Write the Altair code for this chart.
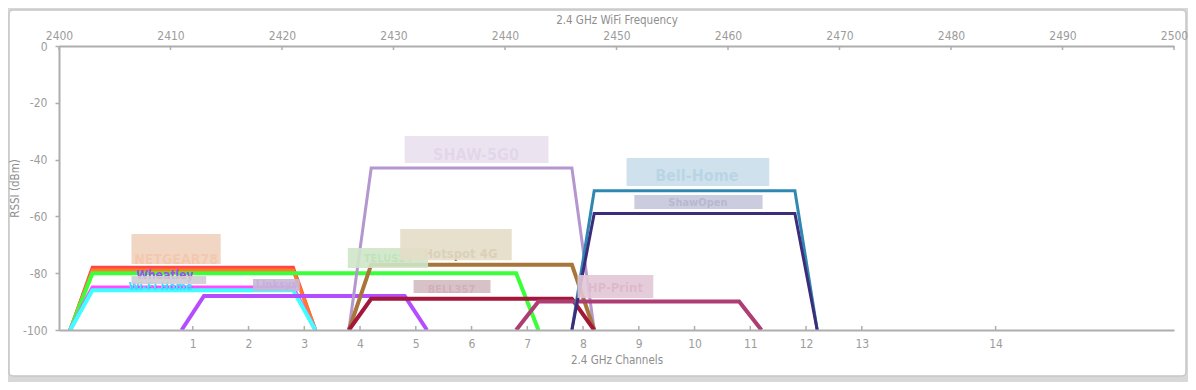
import altair as alt
import pandas as pd

FONT = "'Liberation Sans Narrow', 'DejaVu Sans Condensed', 'Roboto Condensed', sans-serif"

# ---- networks (one trapezoid per access point) ----
net_names = ["NETGEAR78", "NETGEAR78-EXT", "TELUS24", "Wheatley", "Wi-Fi Home",
             "Linksys", "SHAW-5G0", "Hotspot 4G", "BELL357", "HP-Print",
             "Bell-Home", "ShawOpen"]
net_channel = [1, 1, 3, 1, 1, 3, 6, 6, 6, 9, 10, 10]
net_width_mhz = [20, 20, 40, 20, 20, 20, 20, 20, 20, 20, 20, 20]
net_rssi = [-78, -79, -80, -85, -86, -88, -43, -77, -89, -90, -51, -59]

# style lists (kept apart from the data)
net_colors = ["#FF4545", "#FF7A22", "#3BFF3B", "#FF4DFF", "#3DFFFF", "#B44DFF",
              "#B497CF", "#A8763A", "#A3173A", "#AD3D72", "#2F88B2", "#3D2C7A"]
net_strokes = [3.5, 3.5, 4, 4, 4, 4, 3, 4, 4, 4, 3, 3]

# ---- labels (SSIDs are blurred in the source) ----
label_text = ["NETGEAR78", "Wheatley", "Wi-Fi Home", "Linksys", "TELUS24",
              "Hotspot 4G", "BELL357", "SHAW-5G0", "HP-Print", "Bell-Home", "ShawOpen"]
label_mhz = [2410.5, 2409.5, 2409.1, 2419.5, 2429.5, 2436.0, 2435.2, 2437.4, 2449.9, 2457.2, 2457.3]
label_dbm = [-75.5, -80.6, -84.9, -84.0, -75.0, -73.2, -85.9, -38.4, -85.2, -45.8, -55.3]
label_colors = ["#FF7A22", "#A24CF0", "#3DD8FF", "#B44DFF", "#2ECC2E", "#8A5E2A",
                "#D0206A", "#9C7BBE", "#AD3D72", "#2F88B2", "#3D2C7A"]
label_sizes = [14, 12, 11, 11, 11, 13, 11, 16, 13, 16, 11]

# blur boxes over the labels
box_mhz1 = [2406.5, 2406.5, 2417.4, 2425.9, 2430.6, 2431.8, 2431.0, 2446.5, 2450.9, 2451.6]
box_mhz2 = [2414.5, 2413.2, 2421.6, 2433.1, 2440.6, 2438.7, 2443.9, 2453.3, 2463.7, 2463.1]
box_top = [-66.2, -81.0, -82.0, -71.1, -64.4, -82.4, -31.7, -80.6, -39.4, -52.5]
box_bottom = [-76.8, -83.8, -86.3, -78.2, -75.4, -87.0, -41.2, -88.7, -49.3, -57.4]
box_fills = ["#F1D2BE", "#CFCCD3", "#C8B8D8", "#CFE6C9", "#E3DDC8", "#D3BDC1",
             "#EAE0EE", "#E2C7D6", "#C9DEEA", "#C5C6D9"]

# ---- axes values ----
freq_ticks = list(range(2400, 2501, 10))
rssi_ticks = [0, -20, -40, -60, -80, -100]
channel_numbers = list(range(1, 15))
channel_freqs = [2407 + 5 * c if c < 14 else 2484 for c in channel_numbers]

# ---- build tables ----
rows = []
for i, name in enumerate(net_names):
    ch = net_channel[i]
    c = 2407 + 5 * ch if ch < 14 else 2484
    half = net_width_mhz[i] / 2
    pts = [(c - half - 1, -100), (c - half + 1, net_rssi[i]),
           (c + half - 1, net_rssi[i]), (c + half + 1, -100)]
    for k, (f, r) in enumerate(pts):
        rows.append({"name": name, "k": k, "freq": f, "rssi": r, "sw": net_strokes[i]})
lines_df = pd.DataFrame(rows)

labels_df = pd.DataFrame({"text": label_text, "freq": label_mhz, "rssi": label_dbm,
                          "color": label_colors, "size": label_sizes})
boxes_df = pd.DataFrame({"f1": box_mhz1, "f2": box_mhz2, "rssi": box_top,
                         "bottom": box_bottom, "fill": box_fills})
top_ticks_df = pd.DataFrame({"freq": freq_ticks})
chan_df = pd.DataFrame({"freq": channel_freqs, "ch": channel_numbers})

W, H = 1115, 284
AX_GREY = "#AEAEAE"
LBL_GREY = "#9C9C9C"

xscale = alt.Scale(domain=[2400, 2500], nice=False, zero=False)
yscale = alt.Scale(domain=[-100, 0], nice=False, zero=False)

common_axis = dict(domainColor=AX_GREY, domainWidth=2, labelColor=LBL_GREY,
                   titleColor="#8E8E8E", labelFont=FONT, titleFont=FONT,
                   labelFontSize=12, titleFontSize=11.5, titleFontWeight="normal",
                   grid=False, zindex=1, labelOverlap=False)

top_axis = alt.Axis(orient="top", values=freq_ticks, format="d",
                    title="2.4 GHz WiFi Frequency", tickSize=0, labelPadding=4,
                    titlePadding=4, labelFlush=False, **common_axis)
bottom_axis = alt.Axis(orient="bottom", values=channel_freqs,
                       labelExpr="datum.value == 2484 ? '14' : format((datum.value - 2407) / 5, 'd')",
                       title="2.4 GHz Channels", tickSize=0, labelPadding=8,
                       titlePadding=5, labelFlush=False, **common_axis)
y_axis = alt.Axis(values=rssi_ticks, labelExpr="'' + datum.value", title="RSSI (dBm)",
                  tickSize=4, tickColor=AX_GREY, tickWidth=1.5, labelPadding=8,
                  titlePadding=2, **common_axis)

card = alt.Chart(alt.Data(values=[{}])).mark_rect(
    fill="white", stroke="#C6C6C6", strokeWidth=1.5, cornerRadius=4
).encode(x=alt.value(-50), x2=alt.value(W + 12), y=alt.value(-36), y2=alt.value(H + 46))

lines = alt.Chart(lines_df).mark_line(strokeJoin="miter", strokeCap="butt").encode(
    x=alt.X("freq:Q", scale=xscale, axis=top_axis),
    y=alt.Y("rssi:Q", scale=yscale, axis=y_axis),
    color=alt.Color("name:N", scale=alt.Scale(domain=net_names, range=net_colors), legend=None),
    strokeWidth=alt.StrokeWidth("sw:Q", scale=None),
    order=alt.Order("k:Q"),
)

texts = alt.Chart(labels_df).mark_text(font=FONT, fontWeight="bold", baseline="middle").encode(
    x=alt.X("freq:Q", scale=xscale, axis=None),
    y=alt.Y("rssi:Q", scale=yscale, axis=y_axis),
    text="text:N",
    color=alt.Color("color:N", scale=None),
    size=alt.Size("size:Q", scale=None),
)

boxes = alt.Chart(boxes_df).mark_rect(opacity=0.9).encode(
    x=alt.X("f1:Q", scale=xscale, axis=None),
    x2="f2:Q",
    y=alt.Y("rssi:Q", scale=yscale, axis=y_axis),
    y2="bottom:Q",
    fill=alt.Fill("fill:N", scale=None),
)

top_ticks = alt.Chart(top_ticks_df).mark_rule(color=AX_GREY, strokeWidth=1.5).encode(
    x=alt.X("freq:Q", scale=xscale, axis=None),
    y=alt.value(0), y2=alt.value(4),
)

chan_ticks = alt.Chart(chan_df).mark_rule(color=AX_GREY, strokeWidth=1.5).encode(
    x=alt.X("freq:Q", scale=xscale, axis=bottom_axis),
    y=alt.value(H), y2=alt.value(H - 4),
)

chart = alt.layer(card, lines, texts, boxes, top_ticks, chan_ticks).resolve_axis(
    x="independent"
).properties(
    width=W, height=H,
    autosize=alt.AutoSizeParams(type="none"),
    padding={"left": 51, "top": 38, "right": 14, "bottom": 52},
    background="#D7D8D7",
).configure_view(stroke=None)

chart.save("out.html", embed_options={"renderer": "svg", "actions": False})
